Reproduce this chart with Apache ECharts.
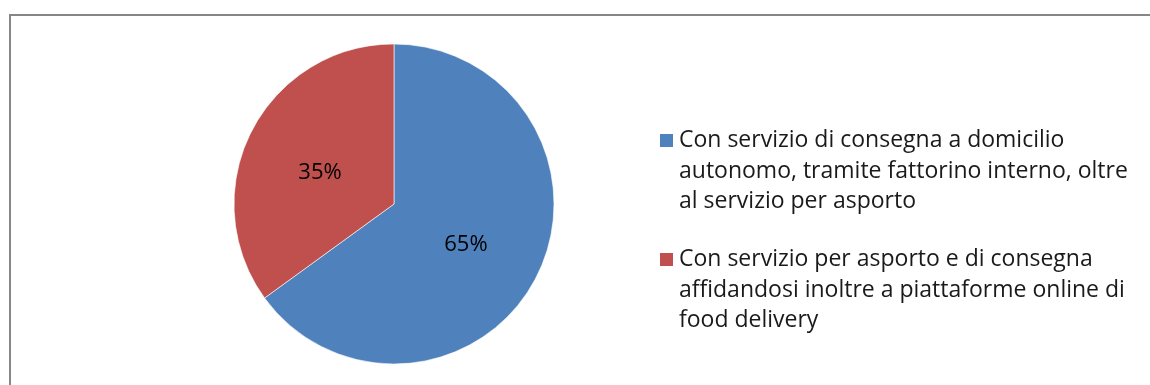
<!DOCTYPE html>
<html>
<head>
<meta charset="utf-8">
<script src="https://cdn.jsdelivr.net/npm/echarts@6/dist/echarts.min.js"></script>
<style>
  html, body { margin: 0; padding: 0; background: #fff; }
  #chart { width: 1150px; height: 385px; }
</style>
</head>
<body>
<div id="chart"></div>
<script>
// Delivery mode shares (percent)
const categories = [
  'Con servizio di consegna a domicilio\nautonomo, tramite fattorino interno, oltre\nal servizio per asporto',
  'Con servizio per asporto e di consegna\naffidandosi inoltre a piattaforme online di\nfood delivery'
];
const values = [65, 35];
const colors = ['#4F81BD', '#C0504D'];
// Small nudges for the percentage labels inside each slice
const labelOffsets = [[-2, 3], [0, 6]];

const FONT = '"Open Sans", "Noto Sans", sans-serif';
const LINE_H = 30.5;
const ICON = 15;

const chart = echarts.init(document.getElementById('chart'), null, { renderer: 'canvas' });

// One legend block per entry; blank lines above the text keep the square
// level with the first line of a wrapped label
function legendBlock(name, iconTop) {
  const lines = name.split('\n').length;
  const pad = lines - 1;
  const total = lines + pad;
  return {
    data: [name],
    orient: 'vertical',
    left: 658,
    top: iconTop + ICON / 2 - total * LINE_H / 2,
    padding: 0,
    itemWidth: ICON,
    itemHeight: ICON,
    itemGap: 0,
    icon: 'rect',
    selectedMode: false,
    formatter: n => '\u00a0\n'.repeat(pad) + n,
    textStyle: {
      fontFamily: FONT,
      fontSize: 23,
      color: '#1a1a1a',
      lineHeight: LINE_H
    }
  };
}

chart.setOption({
  backgroundColor: '#fff',
  color: colors,
  animation: false,
  graphic: [{
    type: 'rect',
    shape: { x: 10, y: 15, width: 1200, height: 400 },
    style: { fill: 'none', stroke: '#868686', lineWidth: 2 },
    silent: true
  }],
  legend: [legendBlock(categories[0], 133), legendBlock(categories[1], 252)],
  series: [{
    type: 'pie',
    center: [394, 204],
    radius: [0, 160],
    startAngle: 90,
    clockwise: true,
    data: categories.map((c, i) => ({
      name: c,
      value: values[i],
      label: { offset: labelOffsets[i] }
    })),
    itemStyle: { borderColor: '#fff', borderWidth: 0.6 },
    label: {
      show: true,
      position: 'inside',
      formatter: p => p.value + '%',
      fontFamily: FONT,
      fontSize: 22,
      color: '#000'
    },
    labelLine: { show: false },
    emphasis: { disabled: true }
  }]
});
</script>
</body>
</html>
